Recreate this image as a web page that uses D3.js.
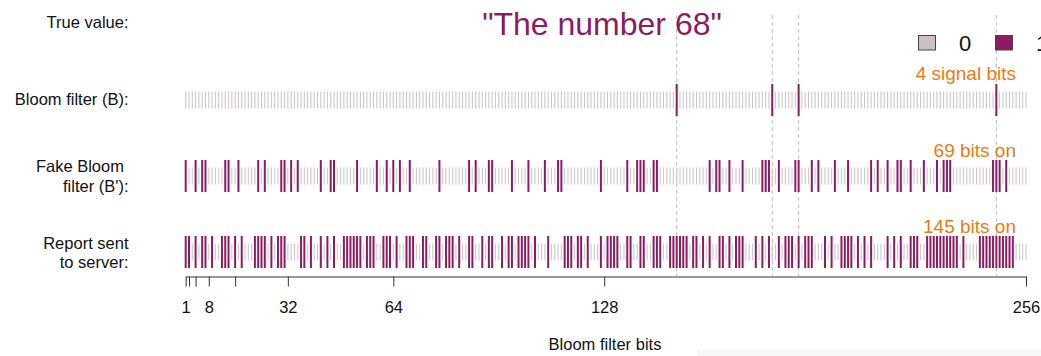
<!DOCTYPE html>
<html>
<head>
<meta charset="utf-8">
<script src="https://cdn.jsdelivr.net/npm/d3@7"></script>
<style>
  html, body { margin: 0; padding: 0; background: #fff; }
  svg { display: block; font-family: "Liberation Sans", Arial, Helvetica, sans-serif; }
</style>
</head>
<body>
<svg id="chart" width="1041" height="356"></svg>
<script>
// Bloom filter bit positions (1-based) that are set to 1 in each row
const nBits = 256;
const signalBits = [150, 179, 187, 247];
const fakeBits = [
  1, 4, 6, 7, 13, 14, 17, 23, 25, 30, 31, 33, 35, 42, 45, 46, 53, 59, 62, 64, 66, 69, 78,
  87, 89, 93, 94, 100, 105, 110, 114, 115, 127, 135, 138, 139, 140, 143, 144, 160, 162, 163, 166, 170,
  176, 177, 178, 181, 186, 187, 191, 193, 198, 202, 209, 211, 214, 217, 218, 221, 225, 229, 231, 232, 233, 246, 247, 248, 250
];
const reportBits = [
  1, 2, 4, 6, 7, 9, 12, 13, 14, 16, 18, 22, 23, 24, 25, 27, 29, 30, 31, 36, 37, 39, 42, 44, 46,
  49, 50, 51, 52, 53, 54, 56, 57, 58, 61, 62, 63, 65, 68, 69, 70, 73, 74, 77, 78, 80, 81, 82, 84,
  87, 88, 91, 93, 94, 97, 99, 100, 102, 103, 104, 105, 107, 111, 116, 117, 118, 120, 121, 123,
  127, 129, 130, 131, 132, 135, 136, 139, 140, 143, 144, 145, 148, 149, 150, 151, 152, 153, 155, 156,
  158, 160, 163, 164, 166, 168, 169, 170,
  174, 176, 178, 181, 183, 184, 185, 187, 189, 190, 191, 195, 197, 200, 201, 202, 203, 205, 207, 209,
  214, 216, 218, 221, 222, 223, 226, 227, 228, 229, 230, 231, 232, 233, 234, 235, 237,
  242, 243, 244, 245, 246, 247, 248, 249, 250, 251, 252
];
const rowKeys = ["bloom", "fake", "report"];
const rowLabels = [["Bloom filter (B):"], ["Fake Bloom\u00a0", "filter (B'):"], ["Report sent", "to server:"]];
const rowNotes = [signalBits.length + " signal bits", fakeBits.length + " bits on", reportBits.length + " bits on"];
const axisTicks = [1, 2, 4, 8, 16, 32, 64, 128, 256];
const axisTickLabels = [1, 8, 32, 64, 128, 256];
const legendKeys = ["0", "1"];

const PURPLE = "#8B1C62";
const GREY = "#D0C6CB";
const ORANGE = "#EE7A12";

const svg = d3.select("#chart");

const x = d3.scaleLinear().domain([1, nBits]).range([185.7, 1026]);
const y = d3.scalePoint().domain(rowKeys).range([100, 252]);
const legendColor = d3.scaleOrdinal().domain(legendKeys).range(["#CBC1C6", PURPLE]);

// light panel along the bottom edge
svg.append("rect").attr("x", 697).attr("y", 349).attr("width", 344).attr("height", 7).attr("fill", "#f6f6f6");

// dashed guides through the signal bits
svg.append("g").selectAll("line").data(signalBits).join("line")
  .attr("x1", d => x(d)).attr("x2", d => x(d))
  .attr("y1", 15).attr("y2", 276)
  .attr("stroke", "#bdbdbd").attr("stroke-width", 1)
  .attr("stroke-dasharray", "4,3");

// bit rows
const allBits = d3.range(1, nBits + 1);
const rowSets = { bloom: new Set(signalBits), fake: new Set(fakeBits), report: new Set(reportBits) };
rowKeys.forEach(key => {
  const g = svg.append("g");
  const on = rowSets[key];
  g.selectAll("line.off").data(allBits.filter(b => !on.has(b))).join("line")
    .attr("class", "off")
    .attr("x1", d => x(d)).attr("x2", d => x(d))
    .attr("y1", y(key) - 8.5).attr("y2", y(key) + 8.5)
    .attr("stroke", GREY).attr("stroke-width", 1.1);
  g.selectAll("line.on").data(allBits.filter(b => on.has(b))).join("line")
    .attr("class", "on")
    .attr("x1", d => x(d)).attr("x2", d => x(d))
    .attr("y1", y(key) - 16).attr("y2", y(key) + 16)
    .attr("stroke", PURPLE).attr("stroke-width", 2);
});

// row labels
svg.append("text").attr("x", 128.5).attr("y", 28).attr("text-anchor", "end")
  .attr("font-size", 16.5).attr("fill", "#111").text("True value:");
const labelTop = [105, 172, 248.5];
rowLabels.forEach((lines, i) => {
  const t = svg.append("text").attr("text-anchor", "end").attr("font-size", 16.5).attr("fill", "#111");
  lines.forEach((line, j) => {
    t.append("tspan").attr("x", 128.5).attr("y", labelTop[i] + j * 19.5).text(line);
  });
});

// counts above each row
const noteY = [80, 157, 233];
svg.append("g").selectAll("text").data(rowNotes).join("text")
  .attr("x", 1016).attr("y", (d, i) => noteY[i])
  .attr("text-anchor", "end").attr("font-size", 19).attr("fill", ORANGE)
  .text(d => d);

// title
svg.append("text").attr("x", 602).attr("y", 35).attr("text-anchor", "middle")
  .attr("font-size", 32).attr("fill", PURPLE).text('"The number 68"');

// legend
const lg = svg.append("g").selectAll("g").data(legendKeys).join("g")
  .attr("transform", (d, i) => `translate(${918 + i * 77},35)`);
lg.append("rect").attr("x", 0.5).attr("y", 0.5).attr("width", 17).attr("height", 14.5)
  .attr("fill", d => legendColor(d)).attr("stroke", "#444").attr("stroke-width", 1);
lg.append("text").attr("x", 47).attr("y", 16).attr("text-anchor", "middle")
  .attr("font-size", 22).attr("fill", "#111").text(d => d);

// x axis
const axis = d3.axisBottom(x).tickValues(axisTicks).tickSize(10).tickSizeOuter(0)
  .tickFormat(d => axisTickLabels.includes(d) ? d : "");
const ax = svg.append("g").attr("transform", "translate(0,276.5)").call(axis);
ax.select(".domain").attr("stroke", "#333");
ax.selectAll(".tick line").attr("stroke", "#333");
ax.selectAll(".tick text").attr("font-size", 16.5).attr("fill", "#111")
  .attr("font-family", "Liberation Sans, Arial, sans-serif").attr("dy", "1.45em");

svg.append("text").attr("x", 605).attr("y", 350).attr("text-anchor", "middle")
  .attr("font-size", 16.5).attr("fill", "#111").text("Bloom filter bits");
</script>
</body>
</html>
